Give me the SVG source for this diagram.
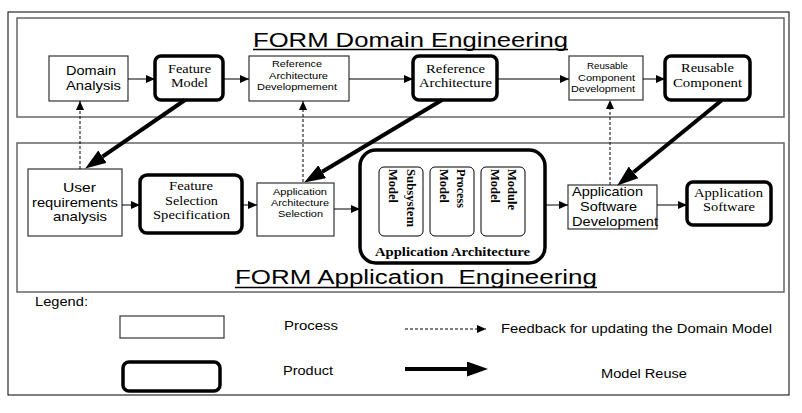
<svg xmlns="http://www.w3.org/2000/svg" width="802" height="413" viewBox="0 0 802 413">
<style>
.frame{fill:none;stroke:#000;stroke-width:1}
.sub{fill:none;stroke:#666;stroke-width:1.5}
.proc{fill:#fff;stroke:#333;stroke-width:1.2}
.prod{fill:#fff;stroke:#000;stroke-width:3.5}
.inner{fill:#fff;stroke:#000;stroke-width:1}
.a{font-family:"Liberation Sans",Arial,sans-serif;fill:#000}
.t{font-family:"Liberation Serif","Times New Roman",serif;fill:#000}
.tb{font-family:"Liberation Serif","Times New Roman",serif;font-weight:bold;fill:#000}
.thin{fill:none;stroke:#000;stroke-width:1}
.dash{fill:none;stroke:#000;stroke-width:1;stroke-dasharray:3,2}
.thick{fill:none;stroke:#000;stroke-width:4}
.ul{stroke:#000;stroke-width:1.5}
</style>
<defs>
<marker id="ah" markerUnits="userSpaceOnUse" markerWidth="10" markerHeight="8" refX="9" refY="4" orient="auto"><path d="M0,0 L9,4 L0,8 z" fill="#000"/></marker>
<marker id="ahd" markerUnits="userSpaceOnUse" markerWidth="10" markerHeight="8" refX="9" refY="4" orient="auto"><path d="M0,0 L9,4 L0,8 z" fill="#000"/></marker>
<marker id="aht" markerUnits="userSpaceOnUse" markerWidth="21" markerHeight="15" refX="0" refY="7.5" orient="auto"><path d="M0,0 L21,7.5 L0,15 z" fill="#000"/></marker>
</defs>
<rect x="0" y="0" width="802" height="413" fill="#fff"/>
<rect class="frame" x="8" y="12" width="781" height="383"/>
<rect class="sub" x="17" y="18" width="767" height="99"/>
<rect class="sub" x="17" y="143" width="767" height="149"/>
<g id="title-domain">
<text class="a" x="253" y="47" font-size="21" textLength="315" lengthAdjust="spacingAndGlyphs">FORM Domain Engineering</text>
<line class="ul" x1="253" y1="49.5" x2="568" y2="49.5"/>
</g>
<g id="title-app">
<text class="a" x="235" y="284" font-size="20" textLength="362" lengthAdjust="spacingAndGlyphs" xml:space="preserve">FORM Application  Engineering</text>
<line class="ul" x1="235" y1="287.5" x2="597" y2="287.5"/>
</g>
<g id="domain-analysis">
<rect class="proc" x="49" y="56" width="79" height="45"/>
<text class="a" font-size="13" x="66" y="75" textLength="50" lengthAdjust="spacingAndGlyphs">Domain</text>
<text class="a" font-size="13" x="66" y="90" textLength="55" lengthAdjust="spacingAndGlyphs">Analysis</text>
</g>
<g id="feature-model">
<rect class="prod" x="155" y="56" width="68" height="44" rx="6"/>
<text class="t" font-size="13.5" x="168" y="73" textLength="43" lengthAdjust="spacingAndGlyphs">Feature</text>
<text class="t" font-size="13.5" x="171" y="87" textLength="37" lengthAdjust="spacingAndGlyphs">Model</text>
</g>
<g id="ref-arch-dev">
<rect class="proc" x="249" y="56" width="100" height="45"/>
<text class="a" font-size="9.5" x="272" y="67" textLength="50" lengthAdjust="spacingAndGlyphs">Reference</text>
<text class="a" font-size="9.5" x="269" y="79" textLength="59" lengthAdjust="spacingAndGlyphs">Architecture</text>
<text class="a" font-size="9.5" x="257" y="90" textLength="80" lengthAdjust="spacingAndGlyphs">Developmement</text>
</g>
<g id="ref-arch">
<rect class="prod" x="413" y="56" width="84" height="44" rx="6"/>
<text class="t" font-size="13" x="426" y="73" textLength="59" lengthAdjust="spacingAndGlyphs">Reference</text>
<text class="t" font-size="13" x="419" y="87" textLength="73" lengthAdjust="spacingAndGlyphs">Architecture</text>
</g>
<g id="reusable-comp-dev">
<rect class="proc" x="569" y="56" width="74" height="44"/>
<text class="a" font-size="9.5" x="587" y="69" textLength="41" lengthAdjust="spacingAndGlyphs">Reusable</text>
<text class="a" font-size="9.5" x="578" y="81" textLength="57" lengthAdjust="spacingAndGlyphs">Component</text>
<text class="a" font-size="9.5" x="571" y="92" textLength="64" lengthAdjust="spacingAndGlyphs">Development</text>
</g>
<g id="reusable-comp">
<rect class="prod" x="665" y="56" width="85" height="44" rx="6"/>
<text class="t" font-size="13.5" x="681" y="72" textLength="53" lengthAdjust="spacingAndGlyphs">Reusable</text>
<text class="t" font-size="13.5" x="673" y="87" textLength="69" lengthAdjust="spacingAndGlyphs">Component</text>
</g>
<g id="user-req">
<rect class="proc" x="28" y="169" width="94" height="67"/>
<text class="a" font-size="13" x="63" y="192" textLength="33" lengthAdjust="spacingAndGlyphs">User</text>
<text class="a" font-size="13" x="32" y="207" textLength="86" lengthAdjust="spacingAndGlyphs">requirements</text>
<text class="a" font-size="13" x="53" y="221" textLength="54" lengthAdjust="spacingAndGlyphs">analysis</text>
</g>
<g id="feature-sel-spec">
<rect class="prod" x="140" y="175" width="102" height="58" rx="7"/>
<text class="t" font-size="13" x="169" y="190" textLength="44" lengthAdjust="spacingAndGlyphs">Feature</text>
<text class="t" font-size="13" x="165" y="205" textLength="53" lengthAdjust="spacingAndGlyphs">Selection</text>
<text class="t" font-size="13" x="153" y="219" textLength="77" lengthAdjust="spacingAndGlyphs">Specification</text>
</g>
<g id="app-arch-sel">
<rect class="proc" x="257" y="183" width="77" height="53"/>
<text class="a" font-size="9.5" x="273" y="195" textLength="54" lengthAdjust="spacingAndGlyphs">Application</text>
<text class="a" font-size="9.5" x="271" y="206" textLength="58" lengthAdjust="spacingAndGlyphs">Architecture</text>
<text class="a" font-size="9.5" x="278" y="217" textLength="45" lengthAdjust="spacingAndGlyphs">Selection</text>
</g>
<g id="app-arch">
<rect class="prod" x="360" y="150" width="185" height="113" rx="16" stroke-width="4"/>
<rect class="inner" x="379" y="167" width="44" height="69" rx="5"/>
<rect class="inner" x="430" y="167" width="44" height="69" rx="5"/>
<rect class="inner" x="481" y="167" width="44" height="69" rx="5"/>
<text class="tb" font-size="12.5" transform="translate(407,169) rotate(90)" textLength="58" lengthAdjust="spacingAndGlyphs">Subsystem</text>
<text class="tb" font-size="12.5" transform="translate(389,169) rotate(90)" textLength="34" lengthAdjust="spacingAndGlyphs">Model</text>
<text class="tb" font-size="12.5" transform="translate(457,169) rotate(90)" textLength="39" lengthAdjust="spacingAndGlyphs">Process</text>
<text class="tb" font-size="12.5" transform="translate(440,169) rotate(90)" textLength="34" lengthAdjust="spacingAndGlyphs">Model</text>
<text class="tb" font-size="12.5" transform="translate(508,169) rotate(90)" textLength="41" lengthAdjust="spacingAndGlyphs">Module</text>
<text class="tb" font-size="12.5" transform="translate(491,169) rotate(90)" textLength="34" lengthAdjust="spacingAndGlyphs">Model</text>
<text class="tb" font-size="13.5" x="375" y="256" textLength="155" lengthAdjust="spacingAndGlyphs">Application Architecture</text>
</g>
<g id="app-sw-dev">
<rect class="proc" x="568" y="185" width="89" height="44"/>
<text class="a" font-size="13" x="572" y="196" textLength="71" lengthAdjust="spacingAndGlyphs">Application</text>
<text class="a" font-size="13" x="580" y="211" textLength="57" lengthAdjust="spacingAndGlyphs">Software</text>
<text class="a" font-size="13" x="572" y="226" textLength="86" lengthAdjust="spacingAndGlyphs">Development</text>
</g>
<g id="app-sw">
<rect class="prod" x="687" y="182" width="84" height="43" rx="6"/>
<text class="t" font-size="13.5" x="694" y="197" textLength="69" lengthAdjust="spacingAndGlyphs">Application</text>
<text class="t" font-size="13.5" x="703" y="211" textLength="52" lengthAdjust="spacingAndGlyphs">Software</text>
</g>
<g id="connectors">
<line class="thin" x1="128" y1="79" x2="155" y2="79" marker-end="url(#ah)"/>
<line class="thin" x1="223" y1="79" x2="249" y2="79" marker-end="url(#ah)"/>
<line class="thin" x1="349" y1="79" x2="413" y2="79" marker-end="url(#ah)"/>
<line class="thin" x1="497" y1="79" x2="569" y2="79" marker-end="url(#ah)"/>
<line class="thin" x1="643" y1="79" x2="665" y2="79" marker-end="url(#ah)"/>
<line class="thin" x1="122" y1="205" x2="140" y2="205" marker-end="url(#ah)"/>
<line class="thin" x1="242" y1="205" x2="257" y2="205" marker-end="url(#ah)"/>
<line class="thin" x1="334" y1="209" x2="360" y2="209" marker-end="url(#ah)"/>
<line class="thin" x1="545" y1="205" x2="568" y2="205" marker-end="url(#ah)"/>
<line class="thin" x1="657" y1="205" x2="687" y2="205" marker-end="url(#ah)"/>
<line class="dash" x1="80" y1="169" x2="80" y2="101" marker-end="url(#ahd)"/>
<line class="dash" x1="303" y1="182" x2="303" y2="101" marker-end="url(#ahd)"/>
<line class="dash" x1="610" y1="185" x2="610" y2="100" marker-end="url(#ahd)"/>
<line class="thick" x1="185" y1="100" x2="102.5" y2="156.7" marker-end="url(#aht)"/>
<line class="thick" x1="442" y1="100" x2="322.2" y2="171.7" marker-end="url(#aht)"/>
<line class="thick" x1="722" y1="100" x2="633.5" y2="172.3" marker-end="url(#aht)"/>
</g>
<g id="legend">
<text class="a" font-size="12" x="35" y="306" textLength="53" lengthAdjust="spacingAndGlyphs">Legend:</text>
<rect class="proc" x="120" y="316" width="104" height="22"/>
<text class="a" font-size="12" x="284" y="330" textLength="54" lengthAdjust="spacingAndGlyphs">Process</text>
<line class="dash" x1="405" y1="329" x2="486" y2="329" marker-end="url(#ahd)"/>
<text class="a" font-size="12" x="501" y="333" textLength="271" lengthAdjust="spacingAndGlyphs">Feedback for updating the Domain Model</text>
<rect class="prod" x="123" y="362" width="97" height="29" rx="6"/>
<text class="a" font-size="12" x="283" y="375" textLength="50" lengthAdjust="spacingAndGlyphs">Product</text>
<line class="thick" x1="405" y1="369" x2="467" y2="369" marker-end="url(#aht)"/>
<text class="a" font-size="12" x="601" y="378" textLength="86" lengthAdjust="spacingAndGlyphs">Model Reuse</text>
</g>
</svg>
